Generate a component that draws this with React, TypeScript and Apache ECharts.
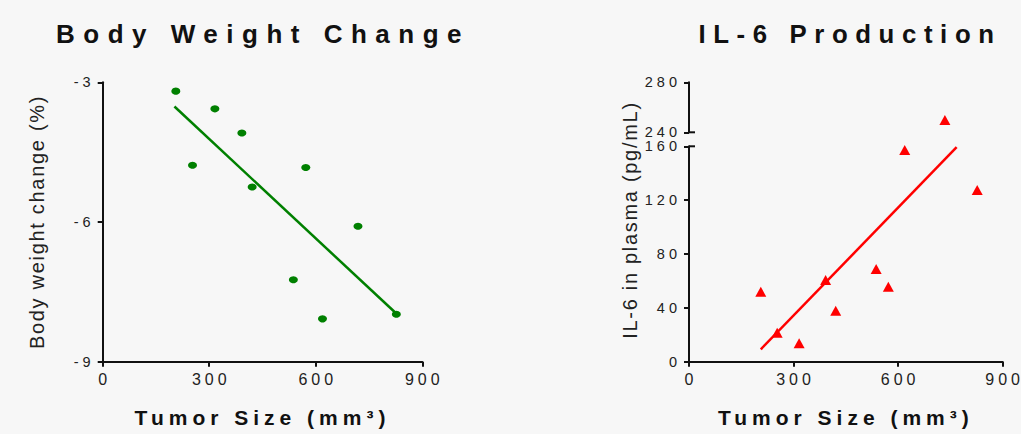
import React, { useEffect, useRef } from 'react';
import * as echarts from 'echarts';

// Shared tumour sizes (mm³) for the ten animals
const tumorSize = [206, 253, 316, 392, 421, 537, 572, 619, 719, 827];
// Body weight change (%)
const weightChange = [-3.19, -4.78, -3.57, -4.09, -5.25, -7.24, -4.83, -8.08, -6.09, -7.98];
// IL-6 in plasma (pg/mL)
const il6 = [52, 21.5, 13.7, 60.7, 37.9, 68.9, 55.7, 157.3, 249.8, 127.6];
// Regression line end points
const weightFitX = [202, 826];
const weightFitY = [-3.52, -7.96];
const il6FitX = [206, 768];
const il6FitY = [9.2, 159.3];
// Axis ranges / ticks
const xRange = [0, 900, 300];
const weightRange = [-9, -3, 3];
const il6LowRange = [0, 160, 40];
const il6HighRange = [240, 280, 40];

const titles = ['Body Weight Change', 'IL-6 Production'];
const xName = 'Tumor Size (mm³)';
const yNames = ['Body weight change (%)', 'IL-6 in plasma (pg/mL)'];

const FONT = 'Liberation Sans, Arial, sans-serif';

export default function App() {
  const ref = useRef<HTMLDivElement>(null);
  useEffect(() => {
    if (!ref.current) return;
    const chart = echarts.init(ref.current, null, { renderer: 'svg' });

    const axisLine = { show: true, lineStyle: { color: '#111', width: 2 } };
    const axisTick = { show: true, inside: false, length: 5, lineStyle: { color: '#111', width: 2 } };

    const xAxisBase = (gi: number) => ({
      type: 'value',
      gridIndex: gi,
      min: xRange[0],
      max: xRange[1],
      interval: xRange[2],
      axisLine,
      axisTick,
      splitLine: { show: false },
      axisLabel: { fontSize: 16, color: '#222', fontFamily: FONT, margin: 10, padding: [0, 0, 0, 4] },
      name: xName,
      nameLocation: 'middle',
      nameGap: 45,
      nameTextStyle: { fontSize: 21, fontWeight: 'bold', color: '#111', fontFamily: FONT },
    });
    const yAxisBase = (gi: number, r: number[], pad: number[]) => ({
      type: 'value',
      gridIndex: gi,
      min: r[0],
      max: r[1],
      interval: r[2],
      axisLine,
      axisTick,
      splitLine: { show: false },
      axisLabel: { fontSize: 14.5, color: '#222', fontFamily: FONT, margin: 8, padding: pad },
    });

    const il6Low = tumorSize
      .map((x, i) => [x, il6[i]])
      .filter((p) => p[1] <= il6LowRange[1]);
    const il6High = tumorSize
      .map((x, i) => [x, il6[i]])
      .filter((p) => p[1] >= il6HighRange[0]);

    const titleStyle = (text: string, size: number) => ({
      text,
      fontSize: size,
      fontWeight: 'bold',
      fontFamily: FONT,
      fill: '#111',
      textAlign: 'center',
      textVerticalAlign: 'middle',
    });
    const yNameStyle = (text: string) => ({
      text,
      fontSize: 20,
      fontFamily: FONT,
      fill: '#222',
      textAlign: 'center',
      textVerticalAlign: 'middle',
    });

    chart.setOption({
      animation: false,
      backgroundColor: '#f7f7f7',
      grid: [
        { left: 102.7, top: 82.3, width: 319.6, height: 279.4 },
        { left: 689, top: 146.3, width: 320.3, height: 215.4 },
        { left: 689, top: 82.3, width: 320.3, height: 50 },
      ],
      xAxis: [
        xAxisBase(0),
        xAxisBase(1),
        { type: 'value', gridIndex: 2, min: xRange[0], max: xRange[1], show: false },
      ],
      yAxis: [
        yAxisBase(0, weightRange, [0, 0, 0, 0]),
        yAxisBase(1, il6LowRange, [2, 0, 0, 0]),
        yAxisBase(2, il6HighRange, [0, 0, 2, 0]),
      ],
      series: [
        {
          type: 'scatter',
          xAxisIndex: 0,
          yAxisIndex: 0,
          symbol: 'circle',
          symbolSize: [9, 7],
          itemStyle: { color: '#008000', opacity: 1 },
          data: tumorSize.map((x, i) => [x, weightChange[i]]),
        },
        {
          type: 'line',
          xAxisIndex: 0,
          yAxisIndex: 0,
          showSymbol: false,
          symbol: 'none',
          lineStyle: { color: '#008000', width: 2.5 },
          data: weightFitX.map((x, i) => [x, weightFitY[i]]),
        },
        {
          type: 'scatter',
          xAxisIndex: 1,
          yAxisIndex: 1,
          symbol: 'triangle',
          symbolSize: [11, 10],
          itemStyle: { color: '#ff0000', opacity: 1 },
          data: il6Low,
        },
        {
          type: 'scatter',
          xAxisIndex: 2,
          yAxisIndex: 2,
          symbol: 'triangle',
          symbolSize: [11, 10],
          itemStyle: { color: '#ff0000', opacity: 1 },
          data: il6High,
        },
        {
          type: 'line',
          xAxisIndex: 1,
          yAxisIndex: 1,
          showSymbol: false,
          symbol: 'none',
          lineStyle: { color: '#ff0000', width: 2.5 },
          data: il6FitX.map((x, i) => [x, il6FitY[i]]),
        },
      ],
      graphic: [
        { type: 'text', x: 263, y: 34, style: titleStyle(titles[0], 26) },
        { type: 'text', x: 850, y: 34, style: titleStyle(titles[1], 25.8) },
        { type: 'text', x: 37, y: 222, rotation: Math.PI / 2, style: yNameStyle(yNames[0]) },
        { type: 'text', x: 630, y: 220, rotation: Math.PI / 2, style: yNameStyle(yNames[1]) },
        {
          type: 'line',
          shape: { x1: 689, y1: 132.3, x2: 695, y2: 132.3 },
          style: { stroke: '#111', lineWidth: 2 },
        },
        {
          type: 'line',
          shape: { x1: 689, y1: 146.3, x2: 695, y2: 146.3 },
          style: { stroke: '#111', lineWidth: 2 },
        },
      ],
    });
    return () => chart.dispose();
  }, []);

  return (
    <>
      <style>{`
        #chartroot text[style*="26px"] { letter-spacing: 8.5px; }
        #chartroot text[style*="25.8px"] { letter-spacing: 7.6px; }
        #chartroot text[style*="21px"] { letter-spacing: 5px; }
        #chartroot text[style*="20px"] { letter-spacing: 1.7px; }
        #chartroot text[style*="16px"] { letter-spacing: 4px; }
        #chartroot text[style*="14.5px"] { letter-spacing: 4px; }
      `}</style>
      <div
        id="chartroot"
        ref={ref}
        style={{ position: 'fixed', left: 0, top: 0, width: 1021, height: 434 }}
      />
    </>
  );
}
